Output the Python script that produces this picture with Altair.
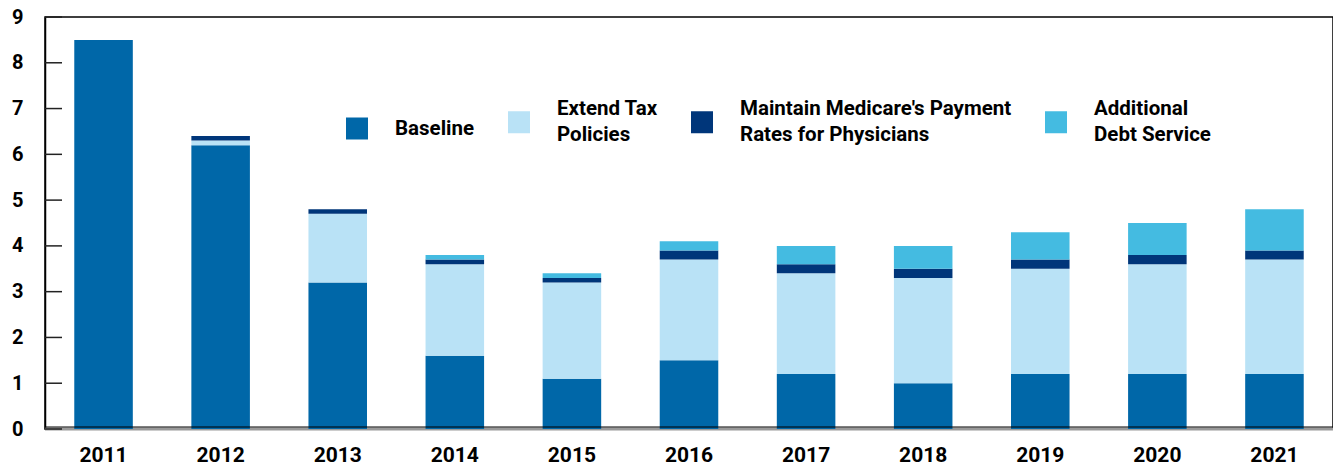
import altair as alt
import pandas as pd

years = ["2011", "2012", "2013", "2014", "2015", "2016", "2017", "2018", "2019", "2020", "2021"]
series_names = [
    "Baseline",
    "Extend Tax\nPolicies",
    "Maintain Medicare's Payment\nRates for Physicians",
    "Additional\nDebt Service",
]
baseline = [8.5, 6.2, 3.2, 1.6, 1.1, 1.5, 1.2, 1.0, 1.2, 1.2, 1.2]
extend_tax = [0.0, 0.1, 1.5, 2.0, 2.1, 2.2, 2.2, 2.3, 2.3, 2.4, 2.5]
medicare = [0.0, 0.1, 0.1, 0.1, 0.1, 0.2, 0.2, 0.2, 0.2, 0.2, 0.2]
debt_service = [0.0, 0.0, 0.0, 0.1, 0.1, 0.2, 0.4, 0.5, 0.6, 0.7, 0.9]
tick_values = [0, 1, 2, 3, 4, 5, 6, 7, 8, 9]
colors = ["#0067A8", "#B9E2F6", "#00367A", "#44BBE1"]

FONT = "Roboto, Liberation Sans, sans-serif"

rows = []
for i, s in enumerate(series_names):
    vals = [baseline, extend_tax, medicare, debt_service][i]
    for y, v in zip(years, vals):
        rows.append({"year": y, "series": s, "value": v, "idx": i})
df = pd.DataFrame(rows)
ticks_df = pd.DataFrame({"v": tick_values})
zero_df = pd.DataFrame({"v": [0]})

yscale = alt.Scale(domain=[0, 9], nice=False, zero=True)
yaxis = alt.Axis(title=None, values=tick_values, grid=False, ticks=False,
                 domainColor="black", domainWidth=1.5,
                 labelFontSize=20, labelFont=FONT, labelFontWeight="bold",
                 labelColor="black", labelPadding=22)

bars = alt.Chart(df).mark_bar().encode(
    x=alt.X("year:N", sort=years,
            scale=alt.Scale(paddingInner=0.5, paddingOuter=0.25),
            axis=alt.Axis(title=None, labelAngle=0, domain=False, ticks=False,
                          labelFontSize=21, labelFont=FONT, labelFontWeight="bold",
                          labelColor="black", labelPadding=15)),
    y=alt.Y("value:Q", stack="zero", scale=yscale, axis=yaxis),
    color=alt.Color("series:N",
                    scale=alt.Scale(domain=series_names, range=colors),
                    legend=alt.Legend(title=None, orient="none", legendX=301, legendY=94,
                                      direction="horizontal", symbolType="square",
                                      symbolSize=484, symbolStrokeWidth=0,
                                      labelFontSize=20.5, labelFont=FONT,
                                      labelFontWeight="bold", labelColor="black",
                                      labelOffset=27, columnPadding=33, labelLimit=500,
                                      labelBaseline={"expr": "indexof(datum.label, '\\n') >= 0 ? 'line-bottom' : 'middle'"},
                                      labelExpr="split(datum.label, '\\n')")),
    order=alt.Order("idx:Q"),
)

gray_zero = alt.Chart(zero_df).mark_rule(color="#9a9a9a", strokeWidth=3).encode(
    y=alt.Y("v:Q", scale=yscale, axis=yaxis)
)
black_zero = alt.Chart(zero_df).mark_rule(color="black", strokeWidth=1.2, yOffset=-2).encode(
    y=alt.Y("v:Q", scale=yscale, axis=yaxis)
)
ticks = alt.Chart(ticks_df).mark_rule(color="#222", strokeWidth=1.5).encode(
    y=alt.Y("v:Q", scale=yscale, axis=yaxis),
    x=alt.value(0),
    x2=alt.value(17),
)

chart = alt.layer(gray_zero, bars, black_zero, ticks).properties(
    width=1288,
    height=412,
    padding={"left": 37, "top": 9, "right": 0, "bottom": 37},
    autosize=alt.AutoSizeParams(type="none"),
).configure(
    style={"guide-label": {"lineHeight": 26}}
).configure_view(stroke="black", strokeWidth=1.5)

chart.save("out.html", embed_options={"renderer": "svg", "actions": False})
